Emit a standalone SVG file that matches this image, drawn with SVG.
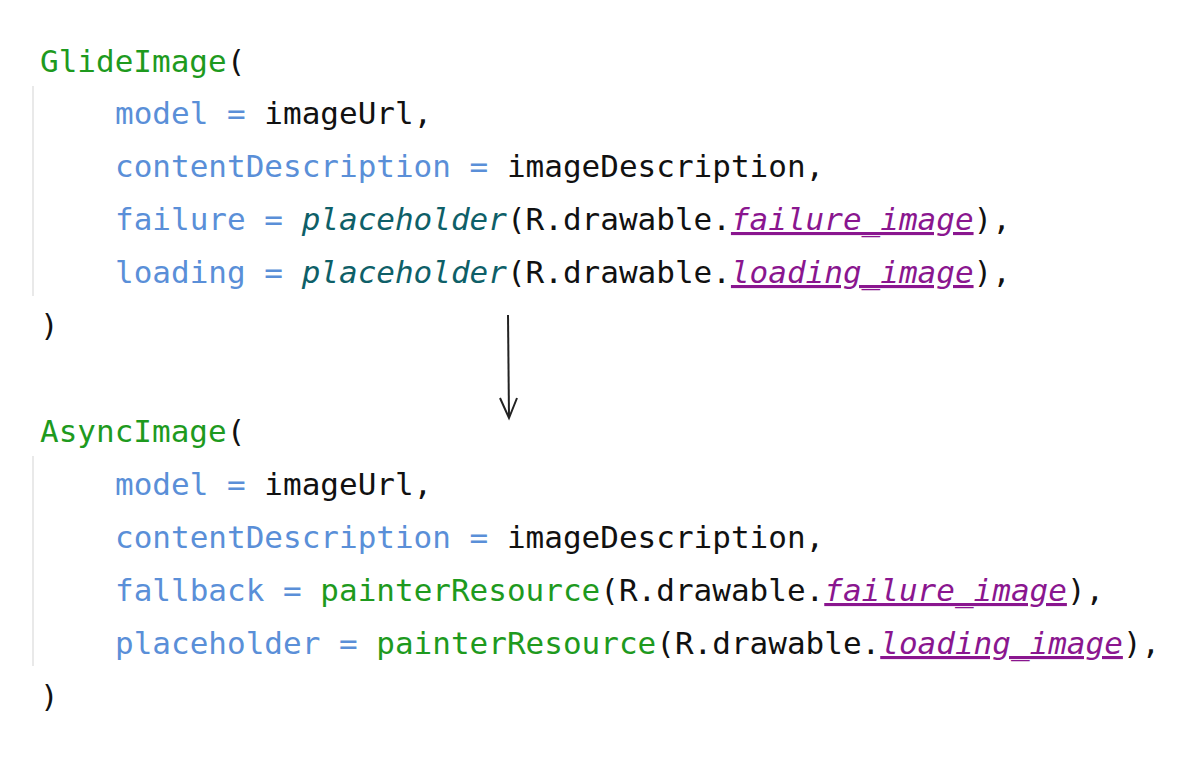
<svg xmlns="http://www.w3.org/2000/svg" width="1200" height="763" viewBox="0 0 1200 763">
<style>
text{font-family:"DejaVu Sans Mono","Liberation Mono",monospace;font-size:31px;fill:#111;white-space:pre}
.g{fill:#1e9a1e}.b{fill:#5a8fd8}.t{fill:#0e5f68;font-style:italic}.p{fill:#8a168f;font-style:italic;text-decoration:underline}
.guide{stroke:#e2e2e2;stroke-width:1.5}
</style>
<rect width="1200" height="763" fill="#fff"/>
<g id="glide">
<line class="guide" x1="33" y1="86" x2="33" y2="296"/>
<text x="40" y="72"><tspan class="g">GlideImage</tspan>(</text>
<text x="115" y="124"><tspan class="b">model = </tspan>imageUrl,</text>
<text x="115" y="177"><tspan class="b">contentDescription = </tspan>imageDescription,</text>
<text x="115" y="230"><tspan class="b">failure = </tspan><tspan class="t">placeholder</tspan>(R.drawable.<tspan class="p">failure_image</tspan>),</text>
<text x="115" y="283"><tspan class="b">loading = </tspan><tspan class="t">placeholder</tspan>(R.drawable.<tspan class="p">loading_image</tspan>),</text>
<text x="40" y="336">)</text>
</g>
<g id="connectors">
<line x1="508" y1="315" x2="509" y2="418" stroke="#222" stroke-width="2"/>
<polyline points="500,398 509,418 517,398" fill="none" stroke="#222" stroke-width="2"/>
</g>
<g id="async">
<line class="guide" x1="33" y1="456" x2="33" y2="666"/>
<text x="40" y="442"><tspan class="g">AsyncImage</tspan>(</text>
<text x="115" y="495"><tspan class="b">model = </tspan>imageUrl,</text>
<text x="115" y="548"><tspan class="b">contentDescription = </tspan>imageDescription,</text>
<text x="115" y="601"><tspan class="b">fallback = </tspan><tspan class="g">painterResource</tspan>(R.drawable.<tspan class="p">failure_image</tspan>),</text>
<text x="115" y="654"><tspan class="b">placeholder = </tspan><tspan class="g">painterResource</tspan>(R.drawable.<tspan class="p">loading_image</tspan>),</text>
<text x="40" y="707">)</text>
</g>
</svg>
